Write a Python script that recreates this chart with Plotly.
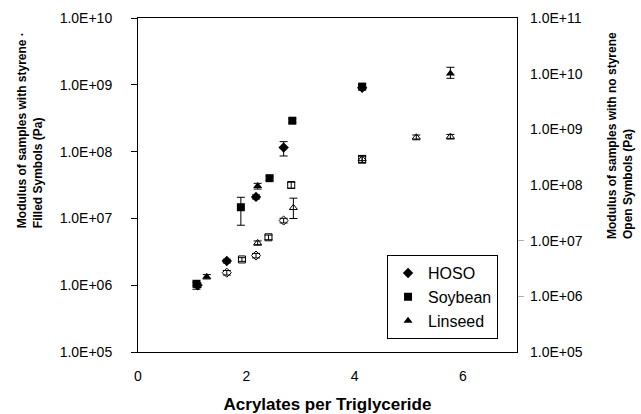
import plotly.graph_objects as go

# ---- data: filled symbols (with styrene, left axis) ----
hoso_x = [1.10, 1.64, 2.18, 2.69, 4.14]
hoso_y = [1.0e6, 2.3e6, 2.1e7, 1.15e8, 9.0e8]
hoso_eu = [0.8e5, 1.5e5, 1.5e6, 2.6e7, 6e7]
hoso_ed = [0.8e5, 1.5e5, 1.5e6, 2.9e7, 6e7]

soy_x = [1.08, 1.90, 2.43, 2.85, 4.14]
soy_y = [1.05e6, 1.47e7, 4.0e7, 2.9e8, 9.4e8]
soy_eu = [0.5e5, 6e6, 3e6, 2e7, 7e7]
soy_ed = [1.8e5, 6.8e6, 3e6, 2e7, 7e7]

lin_x = [1.27, 2.21, 5.77]
lin_y = [1.34e6, 3.05e7, 1.48e9]
lin_eu = [1e5, 3e6, 3.5e8]
lin_ed = [1e5, 3e6, 2.3e8]

# ---- data: open symbols (no styrene, right axis) ----
hoso_o_x = [1.64, 2.18, 2.69]
hoso_o_y = [2.66e6, 5.4e6, 2.3e7]
hoso_o_e = [2.5e5, 5e5, 2.2e6]

soy_o_x = [1.92, 2.41, 2.83, 4.14]
soy_o_y = [4.6e6, 1.15e7, 1.0e8, 2.9e8]
soy_o_e = [3.5e5, 1.1e6, 1.2e7, 4e7]

lin_o_x = [2.21, 2.87, 4.14, 5.14, 5.77]
lin_o_y = [9.1e6, 3.9e7, 2.95e8, 7.2e8, 7.4e8]
lin_o_eu = [8e5, 1.9e7, 4.5e7, 7e7, 7e7]
lin_o_ed = [8e5, 1.4e7, 4.5e7, 7e7, 7e7]

x_ticks = [0, 2, 4, 6]
left_tickvals = [1e5, 1e6, 1e7, 1e8, 1e9, 1e10]
left_ticktext = ["1.0E+05", "1.0E+06", "1.0E+07", "1.0E+08", "1.0E+09", "1.0E+10"]
right_tickvals = [1e5, 1e6, 1e7, 1e8, 1e9, 1e10, 1e11]
right_ticktext = ["1.0E+05", "1.0E+06", "1.0E+07", "1.0E+08", "1.0E+09", "1.0E+10", "1.0E+11"]
right_marks = [1e6, 1e7]

x_title = "Acrylates per Triglyceride"
left_title = "Modulus of samples with styrene ·<br>Filled Symbols (Pa)"
right_title = "Modulus of samples with no styrene<br>Open Symbols (Pa)"

FONT = "Liberation Sans, Arial, sans-serif"

def err(up, down=None):
    return dict(type="data", array=up, arrayminus=down if down is not None else up,
                symmetric=False, color="black", thickness=1, width=4)

fig = go.Figure()

# open symbols (right axis)
for xs, ys, eu, ed, sym in [
    (hoso_o_x, hoso_o_y, hoso_o_e, hoso_o_e, "diamond-open"),
    (soy_o_x, soy_o_y, soy_o_e, soy_o_e, "square-open"),
    (lin_o_x, lin_o_y, lin_o_eu, lin_o_ed, "triangle-up-open"),
]:
    fig.add_trace(go.Scatter(x=xs, y=ys, mode="markers", yaxis="y2", showlegend=False,
                             marker=dict(symbol=sym, size=7, color="black", line=dict(width=1, color="black")),
                             error_y=err(eu, ed)))

# filled symbols (left axis)
for xs, ys, eu, ed, sym, name in [
    (hoso_x, hoso_y, hoso_eu, hoso_ed, "diamond", "HOSO"),
    (soy_x, soy_y, soy_eu, soy_ed, "square", "Soybean"),
    (lin_x, lin_y, lin_eu, lin_ed, "triangle-up", "Linseed"),
]:
    fig.add_trace(go.Scatter(x=xs, y=ys, mode="markers", name=name,
                             marker=dict(symbol=sym, size=8, color="black"),
                             error_y=err(eu, ed)))

# invisible trace to activate the tick-mark-only axis
fig.add_trace(go.Scatter(x=[None], y=[None], yaxis="y3", showlegend=False, hoverinfo="skip"))

fig.update_layout(
    width=641, height=414,
    margin=dict(l=138, r=124, t=18, b=62, autoexpand=False),
    paper_bgcolor="white", plot_bgcolor="white",
    font=dict(family=FONT, color="black", size=14),
    xaxis=dict(range=[0, 7], tickvals=x_ticks, ticks="", showgrid=False, zeroline=False,
               showline=True, linecolor="black", linewidth=1, mirror=True, automargin=False,
               tickfont=dict(size=14), ticklabelstandoff=11,
               title=dict(text="<b>" + x_title + "</b>", font=dict(size=17), standoff=16)),
    yaxis=dict(type="log", range=[5, 10], tickvals=left_tickvals, ticktext=left_ticktext,
               ticks="outside", ticklen=6, tickcolor="black", showgrid=False, zeroline=False,
               showline=True, linecolor="black", linewidth=1, mirror=True, automargin=False,
               tickfont=dict(size=14), ticklabelstandoff=16),
    yaxis2=dict(type="log", range=[5, 11], overlaying="y", side="right", automargin=False,
                tickvals=right_tickvals, ticktext=right_ticktext, ticks="",
                showgrid=False, zeroline=False, showline=False,
                tickfont=dict(size=14), ticklabelstandoff=12),
    yaxis3=dict(type="log", range=[5, 11], overlaying="y", side="right", automargin=False,
                tickvals=right_marks, showticklabels=False, ticks="outside", ticklen=6,
                tickcolor="#b0b0b0", showgrid=False, zeroline=False, showline=False),
    legend=dict(x=0.95, y=0.29, xanchor="right", yanchor="top",
                bordercolor="black", borderwidth=1, bgcolor="white",
                font=dict(size=16), tracegroupgap=0),
    annotations=[
        dict(text="<b>" + left_title + "</b>", xref="paper", yref="paper",
             x=-0.286, y=0.663, xanchor="center", yanchor="middle", textangle=-90,
             align="left", showarrow=False, font=dict(size=12)),
        dict(text="<b>" + right_title + "</b>", xref="paper", yref="paper",
             x=1.272, y=0.647, xanchor="center", yanchor="middle", textangle=-90,
             align="left", showarrow=False, font=dict(size=12)),
    ],
)

fig.write_html("out.html")
